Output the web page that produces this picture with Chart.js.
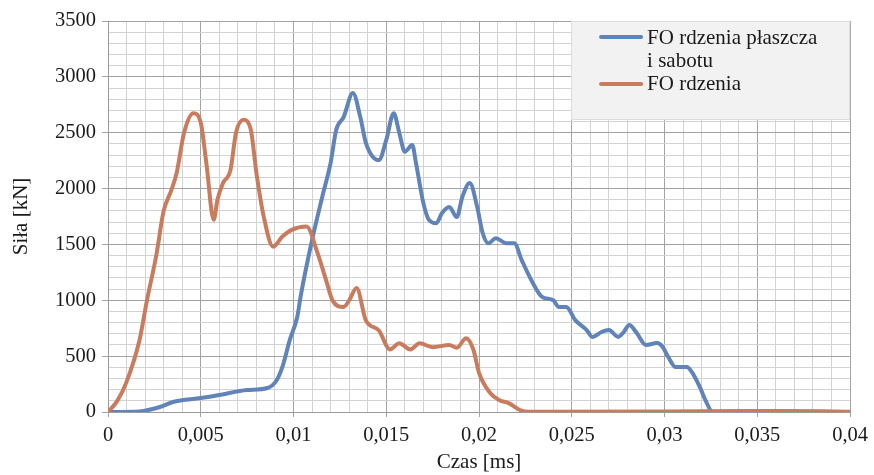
<!DOCTYPE html>
<html>
<head>
<meta charset="utf-8">
<script src="https://cdn.jsdelivr.net/npm/chart.js@4"></script>
<style>
  html, body { margin: 0; padding: 0; background: #fff; }
  #wrap { width: 874px; height: 475px; position: relative; }
</style>
</head>
<body>
<div id="wrap"><canvas id="myChart"></canvas></div>
<script>
// FO rdzenia (orange)
const rdzeniaX = [0, 0.0005, 0.001, 0.0017, 0.0021, 0.0026, 0.003, 0.0034, 0.0037, 0.0041, 0.0046, 0.005,
  0.0053, 0.0057, 0.0059, 0.0062, 0.0066, 0.0069, 0.0073, 0.0077, 0.008, 0.0084, 0.0089, 0.0094, 0.0099,
  0.0107, 0.0113, 0.0118, 0.0121, 0.0127, 0.013, 0.0134, 0.0139, 0.0146, 0.0152, 0.0157, 0.0163, 0.0168,
  0.0175, 0.0184, 0.0188, 0.0193, 0.0197, 0.02, 0.0206, 0.0211, 0.0216, 0.0222, 0.0227, 0.03, 0.035, 0.04];
const rdzeniaY = [0, 100, 270, 645, 1000, 1400, 1800, 1980, 2140, 2500, 2675, 2590,
  2230, 1720, 1900, 2050, 2165, 2500, 2615, 2525, 2140, 1745, 1480, 1570, 1630,
  1660, 1420, 1155, 1000, 940, 1000, 1110, 820, 730, 560, 615, 560, 615,
  580, 600, 575, 660, 555, 350, 170, 105, 80, 18, 3, 5, 8, 3];

// FO rdzenia płaszcza i sabotu (blue)
const plaszczX = [0, 0.0017, 0.0028, 0.0035, 0.005, 0.006, 0.0075, 0.0086, 0.0091, 0.0094, 0.0098, 0.0102,
  0.0104, 0.011, 0.0116, 0.012, 0.0123, 0.0127, 0.0132, 0.0136, 0.0139, 0.0146, 0.015, 0.0154, 0.0157,
  0.016, 0.0164, 0.0166, 0.017, 0.0173, 0.0177, 0.018, 0.0184, 0.0188, 0.0191, 0.0195, 0.0199, 0.0202,
  0.0205, 0.0209, 0.0215, 0.0219, 0.0223, 0.0229, 0.0234, 0.024, 0.0243, 0.0247, 0.0252, 0.0258, 0.0261,
  0.0266, 0.027, 0.0275, 0.0278, 0.0281, 0.0285, 0.029, 0.0296, 0.0299, 0.0302, 0.0306, 0.0312, 0.0315,
  0.0319, 0.0322, 0.0326, 0.035, 0.04];
const plaszczY = [0, 5, 45, 90, 125, 152, 197, 215, 286, 403, 645, 850,
  1050, 1540, 1960, 2230, 2525, 2640, 2855, 2640, 2410, 2255, 2435, 2675, 2500,
  2330, 2390, 2230, 1870, 1720, 1690, 1780, 1835, 1745, 1925, 2050, 1835, 1600,
  1510, 1555, 1510, 1510, 1360, 1155, 1030, 1000, 940, 940, 820, 734, 672,
  716, 734, 672, 716, 779, 707, 600, 617, 582, 492, 403, 403, 350,
  224, 107, 0, 10, 0];

const seriesNames = ['FO rdzenia płaszcza', 'i sabotu', 'FO rdzenia'];
const xMin = 0, xMax = 0.04, xMinor = 0.001, xMajor = 0.005;
const yMin = 0, yMax = 3500, yMinor = 100, yMajor = 500;

const BLUE = '#6083b9';
const ORANGE = '#c97c5d';
const FONT = "'Liberation Serif', 'DejaVu Serif', serif";

function toPoints(xs, ys) {
  return xs.map(function (x, i) { return { x: x, y: ys[i] }; });
}
function isMajor(v, step) {
  var r = v / step;
  return Math.abs(r - Math.round(r)) < 1e-6;
}

const legendBox = {
  id: 'legendBox',
  afterDatasetsDraw: function (chart) {
    var ctx = chart.ctx, a = chart.chartArea;
    var left = a.right - 279, top = a.top;
    ctx.save();
    ctx.fillStyle = '#f2f2f2';
    ctx.fillRect(left, top, 279, 99);
    ctx.strokeStyle = '#dcdcdc';
    ctx.lineWidth = 1;
    ctx.strokeRect(left + 0.5, top + 0.5, 278, 98);
    ctx.lineWidth = 4;
    ctx.lineCap = 'round';
    ctx.strokeStyle = BLUE;
    ctx.beginPath(); ctx.moveTo(left + 30, top + 16); ctx.lineTo(left + 70, top + 16); ctx.stroke();
    ctx.strokeStyle = ORANGE;
    ctx.beginPath(); ctx.moveTo(left + 30, top + 63); ctx.lineTo(left + 70, top + 63); ctx.stroke();
    ctx.fillStyle = '#1a1a1a';
    ctx.font = '21px ' + FONT;
    ctx.textBaseline = 'middle';
    ctx.fillText(seriesNames[0], left + 76, top + 17);
    ctx.fillText(seriesNames[1], left + 76, top + 40);
    ctx.fillText(seriesNames[2], left + 76, top + 63);
    ctx.restore();
  }
};

new Chart(document.getElementById('myChart'), {
  type: 'line',
  data: {
    datasets: [{
      label: 'FO rdzenia',
      data: toPoints(rdzeniaX, rdzeniaY),
      borderColor: ORANGE,
      borderWidth: 4,
      pointRadius: 0,
      tension: 0.4,
      cubicInterpolationMode: 'monotone'
    }, {
      label: 'FO rdzenia płaszcza i sabotu',
      data: toPoints(plaszczX, plaszczY),
      borderColor: BLUE,
      borderWidth: 4,
      pointRadius: 0,
      tension: 0.4,
      cubicInterpolationMode: 'monotone'
    }]
  },
  options: {
    responsive: true,
    maintainAspectRatio: false,
    animation: false,
    layout: { padding: { left: 0, right: 23, top: 21, bottom: 0 } },
    plugins: {
      legend: { display: false },
      tooltip: { enabled: false }
    },
    scales: {
      x: {
        type: 'linear',
        min: xMin,
        max: xMax,
        afterFit: function (scale) { scale.height = 63; },
        border: { color: '#9a9a9a' },
        grid: {
          color: function (c) { return isMajor(c.tick.value, xMajor) ? '#a3a3a3' : '#d3d3d3'; },
          tickColor: function (c) { return isMajor(c.tick.value, xMajor) ? '#a3a3a3' : 'rgba(0,0,0,0)'; },
          tickLength: 5
        },
        ticks: {
          stepSize: xMinor,
          autoSkip: false,
          maxRotation: 0,
          padding: 6,
          color: '#1a1a1a',
          font: { family: FONT, size: 20.5 },
          callback: function (v) {
            if (!isMajor(v, xMajor)) return '';
            return parseFloat(v.toFixed(3)).toString().replace('.', ',');
          }
        },
        title: {
          display: true,
          text: 'Czas [ms]',
          color: '#1a1a1a',
          font: { family: FONT, size: 21 },
          padding: { top: 0, bottom: 0 }
        }
      },
      y: {
        min: yMin,
        max: yMax,
        afterFit: function (scale) { scale.width = 108; },
        border: { color: '#9a9a9a' },
        grid: {
          color: function (c) { return isMajor(c.tick.value, yMajor) ? '#a3a3a3' : '#d3d3d3'; },
          tickColor: function (c) { return isMajor(c.tick.value, yMajor) ? '#a3a3a3' : 'rgba(0,0,0,0)'; },
          tickLength: 6
        },
        ticks: {
          stepSize: yMinor,
          autoSkip: false,
          padding: 6,
          color: '#1a1a1a',
          font: { family: FONT, size: 20.5 },
          callback: function (v) { return isMajor(v, yMajor) ? String(v) : ''; }
        },
        title: {
          display: true,
          text: 'Siła [kN]',
          color: '#1a1a1a',
          font: { family: FONT, size: 21 },
          padding: { top: 9, bottom: 0 }
        }
      }
    }
  },
  plugins: [legendBox]
});
</script>
</body>
</html>
